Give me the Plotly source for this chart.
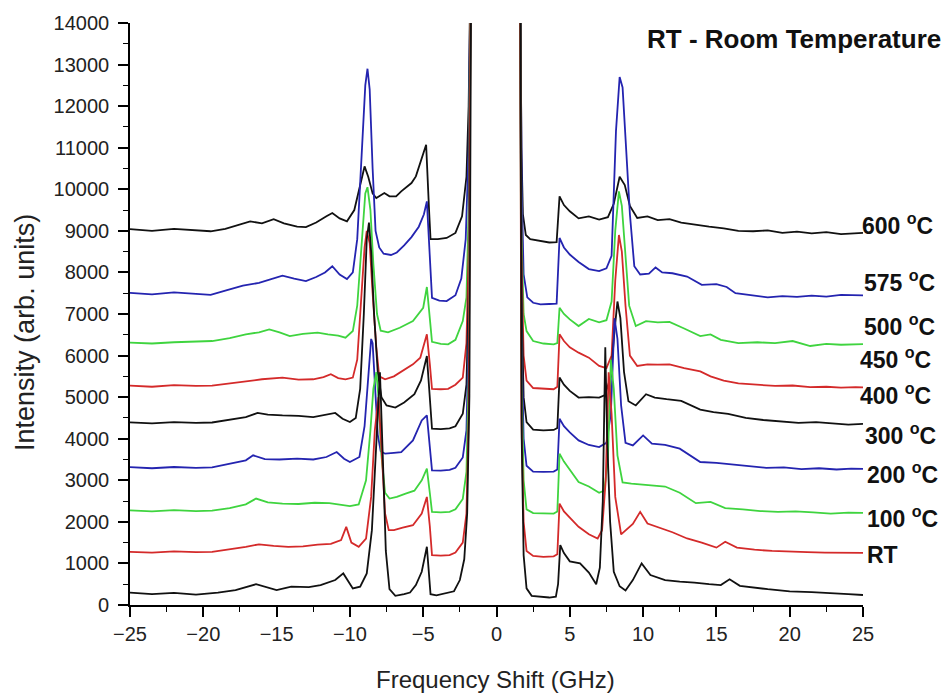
import plotly.graph_objects as go

# ---------------- data ----------------
SERIES_NAMES = ["600 °C", "575 °C", "500 °C", "450 °C", "400 °C", "300 °C", "200 °C", "100 °C", "RT"]
SERIES_COLORS = ["#111111", "#2424b0", "#3fd43f", "#d42a2a", "#111111", "#2424b0", "#3fd43f", "#d42a2a", "#111111"]

T600_X = [-25, -23.5, -22, -20.5, -19.5, -18.5, -17.5, -16.8, -16, -15.2, -14.5, -13.6, -13, -12.3, -11.6, -11.2, -10.7, -10.2, -9.7, -9.35, -9.0, -8.75, -8.45, -8.2, -7.9, -7.65, -7.3, -6.85, -6.5, -6.2, -5.8, -5.5, -5.1, -4.8, -4.6, -4.5, -4.0, -3.4, -2.8, -2.35, -2.05, -1.9, -1.75,
          None,
          1.6, 1.7, 1.8, 2.0, 2.3, 3.0, 3.6, 4.1, 4.3, 4.6, 5.0, 5.6, 6.3, 7.0, 7.6, 8.0, 8.4, 8.75, 9.1, 9.6, 10.3, 11, 11.8, 12.6, 13.5, 14.5, 15.5, 16.5, 17.5, 18.5, 19.5, 20.5, 21.5, 22.5, 23.5, 24.5, 25]
T600_Y = [9040, 9000, 9050, 9010, 8990, 9050, 9150, 9230, 9180, 9280, 9180, 9100, 9090, 9200, 9350, 9430, 9300, 9230, 9500, 10000, 10550, 10300, 9900, 9790, 9850, 9910, 9830, 9830, 9950, 10030, 10150, 10310, 10750, 11070, 9500, 8800, 8800, 8830, 8950, 9350, 10300, 12000, 16000,
          None,
          16000, 11000, 9400, 8900, 8800, 8750, 8720, 8730, 9830, 9620, 9470, 9300, 9350, 9270, 9330, 9650, 10300, 10100, 9600, 9310, 9350, 9260, 9280, 9200, 9150, 9100, 9060, 9000, 8990, 9010, 8950, 8980, 8940, 8970, 8920, 8950, 8950]

T575_X = [-25, -23.5, -22, -20.5, -19.5, -18.5, -17.3, -16.2, -15.2, -14.6, -13.8, -13.0, -12.3, -11.7, -11.2, -10.7, -10.2, -9.8, -9.5, -9.2, -8.95, -8.8, -8.65, -8.45, -8.25, -8.0, -7.7, -7.2, -6.8, -6.3, -5.8, -5.3, -4.95, -4.75, -4.55, -4.4, -3.9, -3.4, -2.8, -2.4, -2.1, -1.9, -1.75,
          None,
          1.6, 1.72, 1.85, 2.1, 2.5, 3.0, 3.6, 4.1, 4.3, 4.6, 5.0, 5.6, 6.3, 7.0, 7.5, 7.85, 8.15, 8.4, 8.6, 8.85, 9.1, 9.4, 9.8, 10.4, 10.85, 11.3, 12, 13, 14, 15, 15.7, 16.3, 17.5, 18.5, 19.5, 20.5, 21.5, 22.5, 23.5, 24.5, 25]
T575_Y = [7510, 7470, 7520, 7480, 7460, 7560, 7680, 7750, 7860, 7920, 7850, 7790, 7890, 8000, 8150, 7950, 7840, 8000, 8800, 10800, 12500, 12900, 12400, 10500, 9000, 8600, 8450, 8420, 8480, 8650, 8850, 9100, 9400, 9710, 8300, 7390, 7320, 7310, 7450, 7850, 8800, 11000, 16000,
          None,
          16000, 10000, 7950, 7400, 7270, 7230, 7240, 7250, 8830, 8600, 8430, 8250, 8080, 8030, 8100, 8400, 11400, 12700, 12450, 11000, 9400, 8150, 7950, 7970, 8120, 8000, 7980, 7900, 7700, 7720, 7650, 7500, 7450, 7400, 7430, 7410, 7440, 7420, 7460, 7450, 7450]

T500_X = [-25, -23.5, -22, -20.5, -19.4, -18.2, -17.1, -16.2, -15.5, -14.8, -14.1, -13.2, -12.2, -11.5, -10.8, -10.3, -9.8, -9.5, -9.2, -8.95, -8.8, -8.6, -8.4, -8.15, -7.9, -7.4, -6.6, -5.7, -5.0, -4.75, -4.55, -4.4, -3.8, -3.3, -2.8, -2.3, -2.05, -1.9, -1.75,
          None,
          1.6, 1.7, 1.85, 2.05, 2.5, 3.2, 3.9, 4.15, 4.3, 4.6, 5.0, 5.6, 6.3, 7.0, 7.5, 7.85, 8.1, 8.35, 8.55, 8.8, 9.05, 9.5, 10.2, 11, 11.8, 12.8, 13.9, 14.6, 15.3, 16.5, 17.8, 19, 20.2, 21.4, 22.5, 23.5, 24.5, 25]
T500_Y = [6310, 6290, 6320, 6340, 6350, 6420, 6510, 6560, 6630, 6560, 6470, 6520, 6550, 6510, 6480, 6430, 6590, 7200, 8600, 9900, 10050, 9500, 8200, 7000, 6600, 6560, 6670, 6830, 7150, 7650, 6900, 6330, 6280, 6270, 6380, 6830, 7400, 9500, 16000,
          None,
          16000, 9000, 7000, 6590, 6350, 6290, 6270, 6300, 7150, 7000, 6870, 6710, 6880, 6800, 6850, 7300, 9000, 9950, 9600, 8300, 7200, 6710, 6830, 6800, 6810, 6650, 6470, 6510, 6380, 6300, 6320, 6300, 6350, 6230, 6280, 6260, 6275, 6275]

T450_X = [-25, -23.5, -22, -20.5, -19.4, -18.2, -17.1, -16, -14.6, -13.5, -12.5, -11.8, -11.3, -10.8, -10.3, -9.8, -9.5, -9.25, -9.0, -8.85, -8.65, -8.45, -8.2, -8.0, -7.6, -7.0, -6.6, -5.7, -5.2, -4.75, -4.55, -4.4, -3.8, -3.3, -2.8, -2.3, -2.05, -1.9, -1.75,
          None,
          1.6, 1.7, 1.85, 2.05, 2.5, 3.2, 3.9, 4.15, 4.3, 4.6, 5.0, 5.6, 6.3, 7.0, 7.5, 7.85, 8.1, 8.35, 8.55, 8.8, 9.1, 9.6, 10.3, 11, 11.8, 12.8, 13.9, 14.6, 15.5, 16.5, 17.8, 19, 20.2, 21.4, 22.5, 23.5, 24.5, 25]
T450_Y = [5275, 5250, 5290, 5270, 5275, 5330, 5390, 5430, 5470, 5420, 5430, 5480, 5550, 5460, 5430, 5470, 5900, 7200, 8600, 9000, 8700, 7500, 6200, 5500, 5430, 5500, 5590, 5790, 5950, 6510, 5800, 5200, 5190, 5200, 5300, 5470, 6300, 8500, 16000,
          None,
          16000, 8500, 6000, 5400, 5220, 5200, 5190, 5250, 6510, 6350, 6200, 6070, 5950, 5750, 5700, 6000, 7800, 8900, 8500, 7200, 6000, 5750, 5790, 5780, 5790, 5700, 5620, 5500, 5400, 5330, 5300, 5270, 5280, 5240, 5250, 5230, 5240, 5235]

T400_X = [-25, -23.5, -22, -20.5, -19.4, -18.2, -17.1, -16.3, -15.6, -14.6, -13.5, -12.5, -11.6, -11.0, -10.5, -10.0, -9.6, -9.3, -9.05, -8.85, -8.7, -8.55, -8.35, -8.1, -7.85, -7.5, -6.9, -6.3, -5.6, -5.15, -4.75, -4.55, -4.4, -3.8, -3.2, -2.8, -2.3, -2.05, -1.9, -1.75,
          None,
          1.6, 1.7, 1.85, 2.05, 2.5, 3.2, 3.9, 4.15, 4.3, 4.6, 5.0, 5.6, 6.3, 7.0, 7.4, 7.8, 8.05, 8.25, 8.45, 8.7, 9.0, 9.5, 10.2, 10.8, 11.6, 12.6, 13.9, 14.8, 15.8, 17, 18.2, 19.4, 20.6, 21.8, 23, 24, 25]
T400_Y = [4395, 4370, 4400, 4380, 4390, 4450, 4520, 4620, 4580, 4560, 4550, 4520, 4580, 4620, 4480, 4400, 4500, 5200, 7000, 8800, 9200, 8500, 7000, 5600, 5000, 4800, 4750, 4870, 5070, 5400, 5990, 5100, 4240, 4230, 4250, 4300, 4600, 5300, 7500, 16000,
          None,
          16000, 7500, 5000, 4400, 4220, 4200, 4210, 4260, 5470, 5300, 5150, 4990, 5000, 4990, 5050, 5500, 6600, 7300, 6900, 5600, 4900, 4800, 5070, 4990, 4950, 4910, 4700, 4640, 4600, 4500, 4450, 4420, 4380, 4400, 4360, 4340, 4355]

T300_X = [-25, -23.5, -22, -20.5, -19.4, -18.2, -17.1, -16.6, -15.8, -14.8, -13.6, -12.5, -11.6, -10.9, -10.4, -10.0, -9.35, -9.0, -8.75, -8.55, -8.45, -8.3, -8.1, -7.9, -7.6, -7.0, -6.5, -5.7, -5.1, -4.75, -4.55, -4.4, -3.8, -3.2, -2.8, -2.3, -2.05, -1.9, -1.75,
          None,
          1.6, 1.7, 1.85, 2.05, 2.5, 3.2, 3.9, 4.15, 4.3, 4.6, 5.0, 5.6, 6.3, 7.0, 7.5, 7.8, 8.05, 8.25, 8.5, 8.8, 9.3, 10.0, 10.6, 11.5, 12.5, 13.9, 15, 16, 17.2, 18.4, 19.6, 20.8, 22, 23.2, 24.2, 25]
T300_Y = [3315, 3290, 3320, 3300, 3310, 3390, 3480, 3600, 3510, 3500, 3520, 3500, 3560, 3680, 3520, 3440, 3560, 4300, 5600, 6400, 6300, 5200, 4100, 3700, 3640, 3660, 3680, 3960, 4440, 4560, 3900, 3240, 3230, 3250, 3300, 3550, 4200, 6500, 16000,
          None,
          16000, 6500, 4000, 3350, 3210, 3200, 3210, 3260, 4480, 4300, 4150, 3960, 3850, 3800, 3900, 4600, 6900, 6400, 4800, 3900, 3840, 4080, 3880, 3850, 3760, 3440, 3420, 3380, 3330, 3300, 3310, 3270, 3290, 3260, 3280, 3275]

T200_X = [-25, -23.5, -22, -20.5, -19.4, -18.2, -17.1, -16.4, -15.6, -14.6, -13.5, -12.4, -11.4, -10.6, -10.0, -9.4, -8.9, -8.6, -8.4, -8.2, -8.05, -7.85, -7.6, -7.3, -6.8, -6.2, -5.6, -5.1, -4.75, -4.55, -4.4, -3.8, -3.2, -2.8, -2.3, -2.05, -1.9, -1.75,
          None,
          1.6, 1.7, 1.85, 2.05, 2.5, 3.2, 3.9, 4.15, 4.3, 4.6, 5.0, 5.6, 6.3, 7.0, 7.35, 7.6, 7.8, 8.0, 8.25, 8.6, 9.2, 9.9, 10.5, 11.5, 12.5, 13.6, 14.6, 15.6, 16.8, 18, 19.2, 20.4, 21.6, 22.8, 24, 25]
T200_Y = [2278, 2250, 2280, 2260, 2270, 2330, 2420, 2560, 2470, 2440, 2430, 2460, 2450, 2420, 2380, 2420, 3000, 4200, 5200, 5600, 5000, 3600, 2700, 2560, 2600, 2680, 2750, 3000, 3280, 2700, 2240, 2230, 2240, 2300, 2550, 3200, 5500, 16000,
          None,
          16000, 5500, 3000, 2300, 2210, 2200, 2200, 2250, 3640, 3450, 3250, 2960, 2850, 2700, 2750, 3500, 5900, 5200, 3600, 2950, 2920, 2900, 2880, 2850, 2700, 2450, 2480, 2330, 2300, 2260, 2240, 2250, 2230, 2200, 2220, 2215]

T100_X = [-25, -23.5, -22, -20.5, -19.4, -18.2, -17.1, -16.2, -15.2, -14.2, -13.2, -12.2, -11.3, -10.6, -10.25, -9.9, -9.4, -8.9, -8.55, -8.3, -8.05, -7.85, -7.6, -7.35, -7.0, -6.4, -5.7, -5.1, -4.75, -4.55, -4.4, -3.8, -3.2, -2.8, -2.3, -2.05, -1.9, -1.75,
          None,
          1.6, 1.7, 1.85, 2.05, 2.5, 3.2, 3.9, 4.15, 4.3, 4.6, 5.0, 5.6, 6.3, 6.9, 7.2, 7.45, 7.65, 7.85, 8.1, 8.5, 9.3, 9.8, 10.3, 11, 12, 13, 14, 15, 15.6, 16.4, 17.6, 18.8, 20, 21.2, 22.4, 23.6, 24.5, 25]
T100_Y = [1280, 1260, 1290, 1270, 1280, 1340, 1400, 1460, 1420, 1400, 1410, 1450, 1470, 1560, 1880, 1500, 1400, 1600, 2600, 4200, 5000, 3800, 2200, 1800, 1800, 1860, 1920, 2200, 2600, 1900, 1200, 1190, 1200, 1260, 1500, 2200, 4500, 16000,
          None,
          16000, 4500, 2000, 1300, 1180, 1160, 1170, 1220, 2440, 2250, 2100, 1880, 1700, 1600, 1800, 3000, 5600, 4600, 2600, 1700, 1950, 2240, 1960, 1880, 1750, 1600, 1500, 1380, 1520, 1380, 1330, 1300, 1280, 1270, 1260, 1250, 1260, 1255]

TRT_X = [-25, -23.5, -22, -20.5, -19, -17.8, -16.4, -15.5, -15, -14, -12.8, -12, -11, -10.45, -10.1, -9.8, -9.3, -8.85, -8.5, -8.2, -7.95, -7.75, -7.55, -7.3, -6.9, -6.3, -5.9, -5.5, -5.1, -4.75, -4.6, -4.5, -4.1, -3.5, -2.9, -2.5, -2.2, -2.0, -1.85, -1.72,
          None,
          1.62, 1.72, 1.85, 2.05, 2.4, 3.0, 3.6, 4.05, 4.2, 4.35, 4.6, 5.0, 5.7, 6.3, 6.8, 7.05, 7.25, 7.42, 7.55, 7.75, 8.0, 8.4, 8.8, 9.3, 9.9, 10.5, 11.5, 12.5, 13.5, 14.5, 15.3, 15.9, 16.6, 18.5, 20, 21.5, 23, 24, 25]
TRT_Y = [300, 260, 290, 250, 300, 360, 500, 400, 360, 440, 430, 480, 600, 760, 560, 400, 440, 760, 1800, 3800, 5600, 3500, 1300, 380, 220, 260, 300, 480, 800, 1400, 700, 260, 230, 280, 330, 600, 1100, 2200, 5000, 16000,
          None,
          16000, 4000, 1200, 400, 220, 200, 180, 200, 500, 1440, 1250, 1050, 1000, 780, 500, 900, 2500, 6200, 4000, 2000, 800, 450, 350, 600, 1000, 720, 600, 560, 540, 500, 480, 620, 460, 380, 330, 310, 290, 260, 240]

SERIES_X = [T600_X, T575_X, T500_X, T450_X, T400_X, T300_X, T200_X, T100_X, TRT_X]
SERIES_Y = [T600_Y, T575_Y, T500_Y, T450_Y, T400_Y, T300_Y, T200_Y, T100_Y, TRT_Y]

LABEL_TEXTS = ["600 <sup>o</sup>C", "575 <sup>o</sup>C", "500 <sup>o</sup>C", "450 <sup>o</sup>C", "400 <sup>o</sup>C",
               "300 <sup>o</sup>C", "200 <sup>o</sup>C", "100 <sup>o</sup>C", "RT"]

X_TITLE = "Frequency Shift (GHz)"
Y_TITLE = "Intensity (arb. units)"
CORNER_TEXT = "RT - Room Temperature"

# ---------------- figure ----------------
W, H = 949, 696
ML, MR, MT, MB = 130, 86, 21, 91
PW, PH = W - ML - MR, H - MT - MB

def px_to_paper_x(px):
    return (px - ML) / PW

def py_to_paper_y(py):
    return (H - MB - py) / PH

fig = go.Figure()
for xs, ys, name, col in zip(SERIES_X, SERIES_Y, SERIES_NAMES, SERIES_COLORS):
    fig.add_trace(go.Scatter(x=xs, y=ys, mode="lines", name=name,
                             line=dict(color=col, width=1.8), connectgaps=False,
                             showlegend=False))

FONT = "Liberation Sans, Arial, sans-serif"

fig.update_layout(
    width=W, height=H,
    margin=dict(l=ML, r=MR, t=MT, b=MB, pad=0),
    paper_bgcolor="white", plot_bgcolor="white",
    font=dict(family=FONT, color="#222222"),
)
fig.update_xaxes(range=[-25, 25], dtick=5, tick0=0, showgrid=False, zeroline=False,
                 showline=True, linecolor="black", linewidth=1.6,
                 ticks="outside", ticklen=10, tickwidth=1.5, tickcolor="black",
                 tickfont=dict(size=20, family=FONT, color="#222222"),
                 minor=dict(dtick=2.5, ticks="outside", ticklen=5, tickwidth=1.3, tickcolor="black"))
fig.update_yaxes(range=[0, 14000], dtick=1000, tick0=0, tickformat="d", showgrid=False, zeroline=False,
                 showline=True, linecolor="black", linewidth=1.6,
                 ticks="outside", ticklen=10, tickwidth=1.5, tickcolor="black",
                 ticklabelstandoff=5,
                 tickfont=dict(size=20, family=FONT, color="#222222"),
                 minor=dict(dtick=500, ticks="outside", ticklen=5, tickwidth=1.3, tickcolor="black"))

annos = []
label_py = [223, 280, 324, 357, 393, 433, 473, 517, 555]
label_px = [860, 862, 862, 858, 858, 863, 865, 865, 865]
for t, px, py in zip(LABEL_TEXTS, label_px, label_py):
    annos.append(dict(text=f"<b>{t}</b>", xref="paper", yref="paper",
                      x=px_to_paper_x(px), y=py_to_paper_y(py),
                      xanchor="left", yanchor="middle", showarrow=False,
                      font=dict(size=23, family=FONT, color="#111111")))
annos.append(dict(text=f"<b>{CORNER_TEXT}</b>", xref="paper", yref="paper",
                  x=px_to_paper_x(943), y=py_to_paper_y(37), xanchor="right", yanchor="middle",
                  showarrow=False, font=dict(size=26, family=FONT, color="#111111")))
annos.append(dict(text=X_TITLE, xref="paper", yref="paper",
                  x=px_to_paper_x(495), y=py_to_paper_y(680), xanchor="center", yanchor="middle",
                  showarrow=False, font=dict(size=24, family=FONT, color="#222222")))
annos.append(dict(text=Y_TITLE, xref="paper", yref="paper", textangle=-90,
                  x=px_to_paper_x(25), y=py_to_paper_y(332), xanchor="center", yanchor="middle",
                  showarrow=False, font=dict(size=27, family=FONT, color="#222222")))
fig.update_layout(annotations=annos)

fig.write_html("out.html")
